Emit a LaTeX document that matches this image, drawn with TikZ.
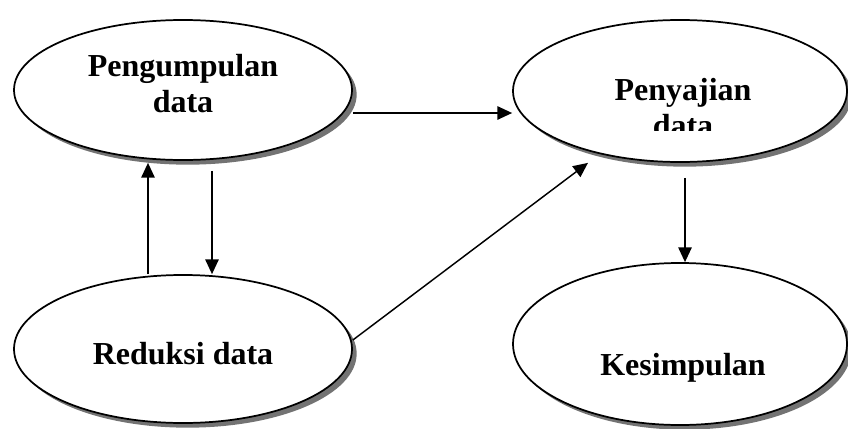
\documentclass[tikz,border=0pt]{standalone}
\usepackage{fontspec}
\setmainfont{Liberation Serif}
\usetikzlibrary{shapes.geometric,shadows,arrows.meta,calc}

\begin{document}
\begin{tikzpicture}[x=0.75pt, y=-0.75pt]
	\tikzstyle{stage} = [ draw, ellipse, fill=white, line width=1.3pt, inner sep=0pt,
		drop shadow={shadow xshift=3.5pt, shadow yshift=-3.5pt, fill=black!55, opacity=1} ];
	\tikzstyle{label} = [ anchor=base, align=center, inner sep=0pt,
		font={\bfseries\fontsize{24}{27}\selectfont} ];
	\tikzstyle{flow} = [ ->, >={Triangle[length=11pt, width=10pt]}, line width=1.1pt ];

	\useasboundingbox (0,0) rectangle (848,428);

	% the four stages
	\node[stage, minimum width=253.5pt, minimum height=105pt]   (kumpul)  at (183,90)  {};
	\node[stage, minimum width=250.5pt, minimum height=106.5pt] (saji)    at (680,91)  {};
	\node[stage, minimum width=253.5pt, minimum height=111pt]   (reduksi) at (183,349) {};
	\node[stage, minimum width=250.5pt, minimum height=121.5pt] (simpul)  at (680,344) {};

	% base of a two-line label is its last line
	\node[label] (kumpul-text)  at (183,112) {Pengumpulan\\data};
	\node[label] (reduksi-text) at (183,364) {Reduksi data};
	\node[label] (simpul-text)  at (683,375) {Kesimpulan};
	\begin{scope}
		\clip (560,60) rectangle (800,130);
		\node[label] (saji-text) at (683,136) {Penyajian\\data};
	\end{scope}

	% arrows between the stages
	\draw[flow] ($(reduksi.north)+(-35,0)$) to ($(kumpul.south)+(-35,2)$);
	\draw[flow] ($(kumpul.south)+(29,10)$)  to ($(reduksi.north)+(29,0)$);
	\draw[flow] ($(kumpul.east)+(0,23)$)    to ($(saji.west)+(0,22)$);
	\draw[flow] ($(reduksi.east)+(0,-9)$)   to ($(saji.south)+(-92,0)$);
	\draw[flow] ($(saji.south)+(5,15)$)     to ($(simpul.north)+(5,0)$);
\end{tikzpicture}
\end{document}
